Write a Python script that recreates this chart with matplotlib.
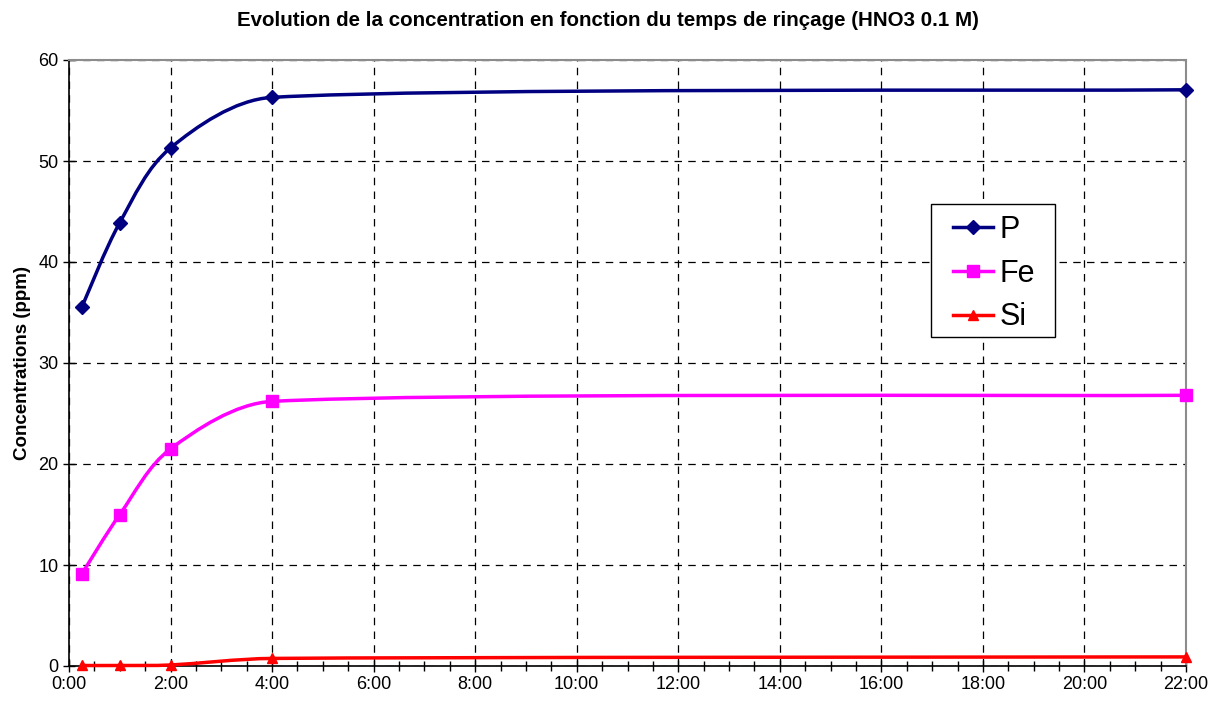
import matplotlib
matplotlib.use("Agg")
import matplotlib.pyplot as plt
from matplotlib.path import Path
from matplotlib.patches import PathPatch, Rectangle
from matplotlib.lines import Line2D
from matplotlib.ticker import MultipleLocator, FuncFormatter
import numpy as np

plt.rcParams['font.family'] = ['Liberation Sans', 'DejaVu Sans']

# Data (time in hours)
times = [0.25, 1, 2, 4, 22]
P = [35.5, 43.9, 51.3, 56.3, 57.05]
Fe = [9.1, 15.0, 21.5, 26.2, 26.8]
Si = [0.05, 0.05, 0.1, 0.75, 0.9]
series_names = ["P", "Fe", "Si"]
colors = ["#000080", "#FF00FF", "#FF0000"]
markers = ["D", "s", "^"]
msizes = [7.5, 8.5, 7.5]

title = "Evolution de la concentration en fonction du temps de rinçage (HNO3 0.1 M)"
ylabel = "Concentrations (ppm)"

W, H = 1216, 703
fig = plt.figure(figsize=(W / 100, H / 100), dpi=100)
ax_l, ax_r, ax_t, ax_b = 69, 1186, 60, 666
ax = fig.add_axes([ax_l / W, (H - ax_b) / H, (ax_r - ax_l) / W, (ax_b - ax_t) / H])
ax.set_xlim(0, 22)
ax.set_ylim(0, 60)


def px_to_axes(x, y):
    return (x - ax_l) / (ax_r - ax_l), 1 - (y - ax_t) / (ax_b - ax_t)


def smooth_path(x, y, ax):
    # Excel-like smoothing computed in display space, with control arms clamped
    pts = ax.transData.transform(np.column_stack([x, y]).astype(float))
    n = len(pts)
    verts = [pts[0]]
    codes = [Path.MOVETO]
    for i in range(n - 1):
        p0 = pts[i - 1] if i > 0 else pts[i]
        p1 = pts[i]
        p2 = pts[i + 1]
        p3 = pts[i + 2] if i + 2 < n else pts[i + 1]
        L = np.hypot(*(p2 - p1))
        a1 = (p2 - p0) / 6.0
        a2 = (p3 - p1) / 6.0
        for a in (a1, a2):
            la = np.hypot(*a)
            if la > L / 3.0:
                a *= (L / 3.0) / la
        c1 = p1 + a1
        c2 = p2 - a2
        verts += [c1, c2, p2]
        codes += [Path.CURVE4] * 3
    verts = ax.transData.inverted().transform(np.array(verts))
    return Path(verts, codes)


handles = []
for name, vals, c, m, ms in zip(series_names, [P, Fe, Si], colors, markers, msizes):
    patch = PathPatch(smooth_path(times, vals, ax), facecolor='none', edgecolor=c,
                      lw=2.5, zorder=3, clip_on=False)
    ax.add_patch(patch)
    ax.plot(times, vals, linestyle='none', marker=m, color=c, markersize=ms,
            zorder=4, clip_on=False)
    handles.append(Line2D([0], [0], color=c, lw=2.5, marker=m, markersize=ms))

ax.xaxis.set_major_locator(MultipleLocator(2))
ax.xaxis.set_minor_locator(MultipleLocator(0.5))
ax.yaxis.set_major_locator(MultipleLocator(10))
ax.xaxis.set_major_formatter(FuncFormatter(lambda v, p: f"{int(round(v))}:00"))

ax.grid(True, which='major', linestyle=(0, (6, 5)), color='black', linewidth=0.9)
ax.set_axisbelow(True)

ax.tick_params(axis='x', which='major', direction='inout', length=9, width=1,
               labelsize=13, pad=3)
ax.tick_params(axis='x', which='minor', direction='inout', length=7, width=1)
ax.tick_params(axis='y', which='major', direction='inout', length=9, width=1,
               labelsize=13, pad=3)

for s in ['left', 'bottom']:
    ax.spines[s].set_color('black')
    ax.spines[s].set_linewidth(1.2)
for s in ['top', 'right']:
    ax.spines[s].set_color('#8c8c8c')
    ax.spines[s].set_linewidth(1.5)

ax.set_ylabel(ylabel, fontsize=13.5, fontweight='bold', labelpad=5)
fig.text(0.5, 1 - 20 / H, title, ha='center', va='center', fontsize=14.8,
         fontweight='bold')

# legend frame
fx0, fy1 = px_to_axes(931, 204)
fx1, fy0 = px_to_axes(1055, 337)
ax.add_patch(Rectangle((fx0, fy0), fx1 - fx0, fy1 - fy0, transform=ax.transAxes,
                       facecolor='white', edgecolor='black', lw=1.0, zorder=5,
                       clip_on=False))
lx, ly = px_to_axes(953, 215)
leg = ax.legend(handles, series_names, loc='upper left', bbox_to_anchor=(lx, ly),
                fontsize=22, frameon=False, handlelength=1.31, handletextpad=0.2,
                labelspacing=0.45, borderpad=0, borderaxespad=0)
leg.set_zorder(6)

fig.savefig("out.png", dpi=100)
